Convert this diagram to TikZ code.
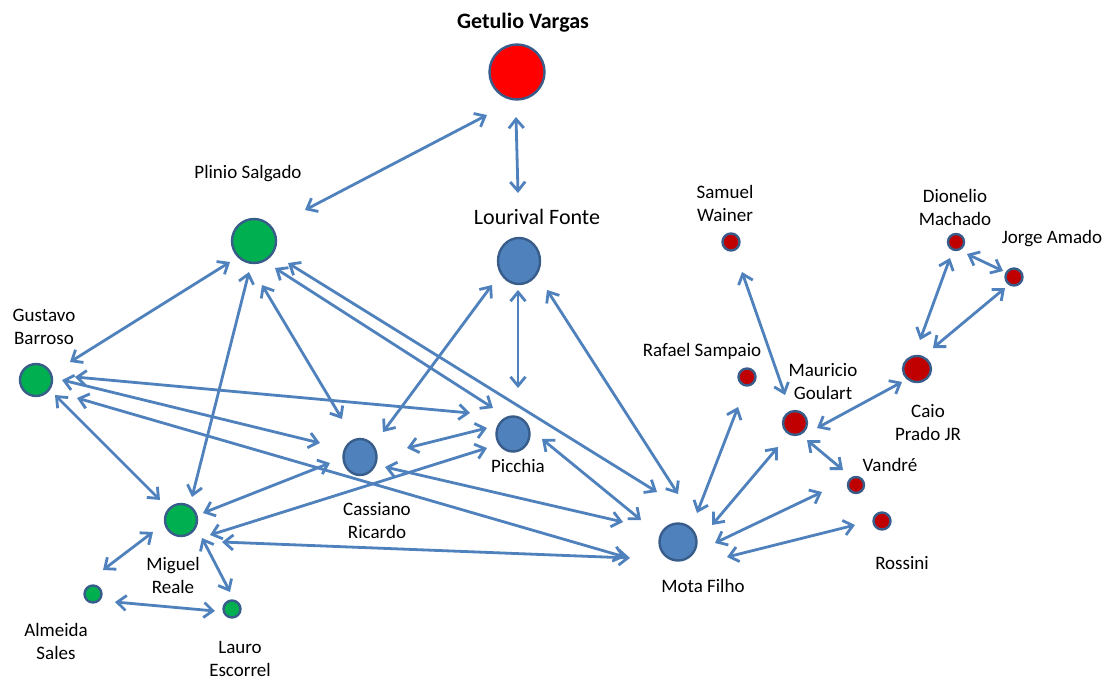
\documentclass[tikz,border=0pt]{standalone}
\usepackage{fontspec}
\setmainfont{Carlito}
\usetikzlibrary{arrows.meta,shapes.geometric}
\definecolor{lnk}{HTML}{4F81BD}
\definecolor{bord}{HTML}{385D8A}
\definecolor{grn}{HTML}{00B050}
\definecolor{drd}{HTML}{C00000}
\definecolor{blu}{HTML}{4F81BD}
\definecolor{brt}{HTML}{FF0000}
\begin{document}
\begin{tikzpicture}[x=1pt,y=-1pt,
  person/.style={ellipse, draw=bord, line width=2.4pt, inner sep=0pt},
  link/.style={draw=lnk, line width=2.8pt, {Straight Barb[length=9pt,width=15pt]}-{Straight Barb[length=9pt,width=15pt]}},
  lab/.style={font=\fontsize{19}{23}\selectfont, align=center, text=black},
  biglab/.style={font=\fontsize{22}{26}\selectfont, align=center, text=black}
]
\useasboundingbox[fill=white] (0,0) rectangle (1105,680);

% nodes
\node[person, fill=brt, minimum width=55pt, minimum height=55pt] (g) at (517,72) {};
\node[person, fill=blu, minimum width=42pt, minimum height=46pt] (l) at (519,261) {};
\node[person, fill=grn, minimum width=44pt, minimum height=44pt] (p) at (254,241) {};
\node[person, fill=grn, minimum width=32pt, minimum height=32pt] (gb) at (36,380) {};
\node[person, fill=grn, minimum width=32pt, minimum height=32pt] (mr) at (181,520) {};
\node[person, fill=grn, minimum width=17pt, minimum height=17pt] (as) at (93,594) {};
\node[person, fill=grn, minimum width=17pt, minimum height=17pt] (le) at (232,609) {};
\node[person, fill=blu, minimum width=33pt, minimum height=36pt] (cr) at (360,457) {};
\node[person, fill=blu, minimum width=33pt, minimum height=35pt] (pi) at (513,434) {};
\node[person, fill=blu, minimum width=37pt, minimum height=37pt] (mf) at (678,542) {};
\node[person, fill=drd, minimum width=17pt, minimum height=17pt] (sw) at (731,242) {};
\node[person, fill=drd, minimum width=16pt, minimum height=16pt] (dm) at (956,242) {};
\node[person, fill=drd, minimum width=17pt, minimum height=17pt] (ja) at (1014,277) {};
\node[person, fill=drd, minimum width=28pt, minimum height=26pt] (cp) at (917,369) {};
\node[person, fill=drd, minimum width=17pt, minimum height=17pt] (rs) at (747,377) {};
\node[person, fill=drd, minimum width=24pt, minimum height=24pt] (mg) at (795,423) {};
\node[person, fill=drd, minimum width=16pt, minimum height=16pt] (va) at (856,485) {};
\node[person, fill=drd, minimum width=17pt, minimum height=17pt] (ro) at (882,521) {};

% labels
\node[biglab, font=\fontsize{22}{26}\selectfont\bfseries] (gL) at (523,23) {Getulio Vargas};
\node[biglab] (lL) at (537,217) {Lourival Fonte};
\node[lab] (pL) at (248,174) {Plinio Salgado};
\node[lab] (gbL) at (44,327) {Gustavo\\Barroso};
\node[lab] (mrL) at (173,575) {Miguel\\Reale};
\node[lab] (asL) at (56,641) {Almeida\\Sales};
\node[lab] (leL) at (240,659) {Lauro\\Escorrel};
\node[lab] (crL) at (377,521) {Cassiano\\Ricardo};
\node[lab] (piL) at (518,466) {Picchia};
\node[lab] (mfL) at (703,586) {Mota Filho};
\node[lab] (swL) at (725,203) {Samuel\\Wainer};
\node[lab] (dmL) at (955,207) {Dionelio\\Machado};
\node[lab] (jaL) at (1052,239) {Jorge Amado};
\node[lab] (rsL) at (702,351) {Rafael Sampaio};
\node[lab] (mgL) at (823,382) {Mauricio\\Goulart};
\node[lab] (cpL) at (928,423) {Caio\\Prado JR};
\node[lab] (vaL) at (890,465) {Vandré};
\node[lab] (roL) at (902,563) {Rossini};

% connectors
\draw[link] ([shift={(-30,43)}]g.center) -- ([shift={(51,-31)}]p.center);
\draw[link] ([shift={(-1,45)}]g.center) -- ([shift={(-1,-68)}]l.center);
\draw[link] ([shift={(-24,21)}]p.center) -- ([shift={(34,-18)}]gb.center);
\draw[link] ([shift={(-5,31)}]p.center) -- ([shift={(11,-23)}]mr.center);
\draw[link] ([shift={(8,44)}]p.center) -- ([shift={(-18,-38)}]cr.center);
\draw[link] ([shift={(21,27)}]p.center) -- ([shift={(-20,-26)}]pi.center);
\draw[link] ([shift={(34,22)}]p.center) -- ([shift={(-21,-50)}]mf.center);
\draw[link] ([shift={(-27,24)}]l.center) -- ([shift={(23,-25)}]cr.center);
\draw[link] ([shift={(-1,29)}]l.center) -- ([shift={(5,-46)}]pi.center);
\draw[link] ([shift={(28,29)}]l.center) -- ([shift={(0,-48)}]mf.center);
\draw[link] ([shift={(39,-3)}]gb.center) -- ([shift={(-43,-21)}]pi.center);
\draw[link] ([shift={(26,0)}]gb.center) -- ([shift={(-40,-14)}]cr.center);
\draw[link] ([shift={(41,18)}]gb.center) -- ([shift={(-53,15)}]mf.center);
\draw[link] ([shift={(19,15)}]gb.center) -- ([shift={(-21,-20)}]mr.center);
\draw[link] ([shift={(22,-7)}]mr.center) -- ([shift={(-30,6)}]cr.center);
\draw[link] ([shift={(29,15)}]mr.center) -- ([shift={(-26,14)}]pi.center);
\draw[link] ([shift={(41,22)}]mr.center) -- ([shift={(-48,16)}]mf.center);
\draw[link] ([shift={(-28,12)}]mr.center) -- ([shift={(10,-24)}]as.center);
\draw[link] ([shift={(21,18)}]mr.center) -- ([shift={(-2,-17)}]le.center);
\draw[link] ([shift={(22,8)}]as.center) -- ([shift={(-17,2)}]le.center);
\draw[link] ([shift={(47,-9)}]cr.center) -- ([shift={(-26,-6)}]pi.center);
\draw[link] ([shift={(25,10)}]cr.center) -- ([shift={(-55,-20)}]mf.center);
\draw[link] ([shift={(29,5)}]pi.center) -- ([shift={(-37,-22)}]mf.center);
\draw[link] ([shift={(19,-29)}]mf.center) -- ([shift={(-9,30)}]rs.center);
\draw[link] ([shift={(34,-17)}]mf.center) -- ([shift={(-17,24)}]mg.center);
\draw[link] ([shift={(37,1)}]mf.center) -- ([shift={(-34,7)}]va.center);
\draw[link] ([shift={(49,15)}]mf.center) -- ([shift={(-27,4)}]ro.center);
\draw[link] ([shift={(-10,-28)}]mg.center) -- ([shift={(11,30)}]sw.center);
\draw[link] ([shift={(22,5)}]mg.center) -- ([shift={(-15,13)}]cp.center);
\draw[link] ([shift={(12,17)}]mg.center) -- ([shift={(-13,-15)}]va.center);
\draw[link] ([shift={(3,-29)}]cp.center) -- ([shift={(-6,16)}]dm.center);
\draw[link] ([shift={(16,-21)}]cp.center) -- ([shift={(-9,11)}]ja.center);
\draw[link] ([shift={(11,12)}]dm.center) -- ([shift={(-11,-6)}]ja.center);
\end{tikzpicture}
\end{document}
